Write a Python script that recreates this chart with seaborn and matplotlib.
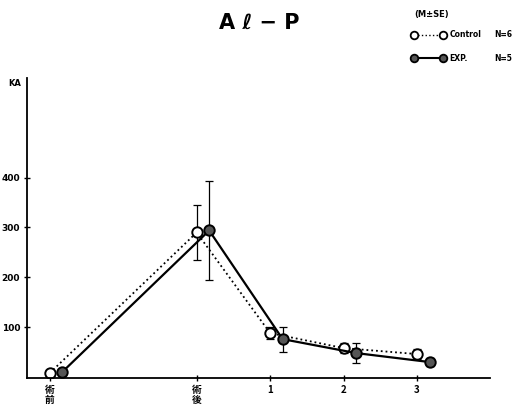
import numpy as np
import pandas as pd
import matplotlib
matplotlib.use("Agg")
import matplotlib.pyplot as plt
import seaborn as sns
from matplotlib.lines import Line2D

# time points (術前 = before surgery, 術後 = right after, then months 1-3)
time_pos = [-2, 0, 1, 2, 3]
time_labels = ["術\n前", "術\n後", "1", "2", "3"]

control_mean = [8, 290, 88, 58, 46]
control_se = [4, 55, 12, 10, 10]
exp_mean = [10, 294, 76, 48, 30]
exp_se = [4, 100, 25, 20, 8]

y_ticks = [100, 200, 300, 400]

sns.set_theme(style="white")
plt.rcParams["font.family"] = ["DejaVu Sans", "Noto Sans CJK JP"]
plt.rcParams["font.weight"] = "bold"
plt.rcParams["text.color"] = "black"
plt.rcParams["xtick.color"] = "black"
plt.rcParams["ytick.color"] = "black"

fig = plt.figure(figsize=(5.14, 4.09), dpi=100)
ax = fig.add_axes([0.0525, 0.0758, 0.9005, 0.7335])

shift = 0.17
df = pd.DataFrame({
    "x": list(np.array(time_pos, float)) + list(np.array(time_pos, float) + shift),
    "y": control_mean + exp_mean,
    "group": ["Control"] * 5 + ["EXP."] * 5,
})

sns.lineplot(data=df[df.group == "Control"], x="x", y="y", ax=ax, color="black",
             linestyle=":", linewidth=1.3, marker="o", markersize=7.5,
             markerfacecolor="white", markeredgecolor="black", markeredgewidth=1.4,
             legend=False)
sns.lineplot(data=df[df.group == "EXP."], x="x", y="y", ax=ax, color="black",
             linestyle="-", linewidth=1.6, marker="o", markersize=7.5,
             markerfacecolor="#555555", markeredgecolor="black", markeredgewidth=1.4,
             legend=False)

ax.errorbar(np.array(time_pos, float), control_mean, yerr=control_se, fmt="none",
            ecolor="black", elinewidth=0.9, capsize=3, capthick=0.9, zorder=1)
ax.errorbar(np.array(time_pos, float) + shift, exp_mean, yerr=exp_se, fmt="none",
            ecolor="black", elinewidth=0.9, capsize=3, capthick=0.9, zorder=1)

ax.set_xlim(-2.31, 3.99)
ax.set_ylim(-2, 600)
ax.set_xticks(time_pos)
ax.set_xticklabels(time_labels, fontsize=7, fontweight="bold",
                   family=["Noto Sans CJK JP", "DejaVu Sans"], linespacing=1.0)
ax.set_yticks(y_ticks)
ax.set_yticklabels([str(v) for v in y_ticks], fontsize=6.5, fontweight="heavy")
ax.set_xlabel("")
ax.set_ylabel("")
for s in ["top", "right"]:
    ax.spines[s].set_visible(False)
for s in ["left", "bottom"]:
    ax.spines[s].set_color("black")
    ax.spines[s].set_linewidth(1.3)
ax.tick_params(axis="both", direction="inout", length=4, width=1, color="black",
               pad=3, bottom=True, left=True)

# unit label at the top of the y axis
fig.text(0.016, 0.795, "KA", fontsize=6, fontweight="heavy", ha="left", va="center")

# title
fig.text(0.505, 0.945, "A ℓ − P", fontsize=15, fontweight="heavy", ha="center", va="center")

# legend block
fig.text(0.806, 0.965, "(M±SE)", fontsize=6, fontweight="heavy", ha="left", va="center")
y1, y2 = 0.915, 0.857
fig.add_artist(Line2D([0.805, 0.862], [y1, y1], transform=fig.transFigure, color="black",
                      linestyle=":", linewidth=1.0, marker="o", markersize=5.5,
                      markerfacecolor="white", markeredgecolor="black", markeredgewidth=1.3))
fig.add_artist(Line2D([0.805, 0.862], [y2, y2], transform=fig.transFigure, color="black",
                      linestyle="-", linewidth=1.5, marker="o", markersize=5.5,
                      markerfacecolor="#555555", markeredgecolor="black", markeredgewidth=1.3))
fig.text(0.875, y1, "Control", fontsize=5.5, fontweight="heavy", ha="left", va="center")
fig.text(0.875, y2, "EXP.", fontsize=5.5, fontweight="heavy", ha="left", va="center")
fig.text(0.962, y1, "N=6", fontsize=5.5, fontweight="heavy", ha="left", va="center")
fig.text(0.962, y2, "N=5", fontsize=5.5, fontweight="heavy", ha="left", va="center")

fig.savefig("out.png", dpi=100)
